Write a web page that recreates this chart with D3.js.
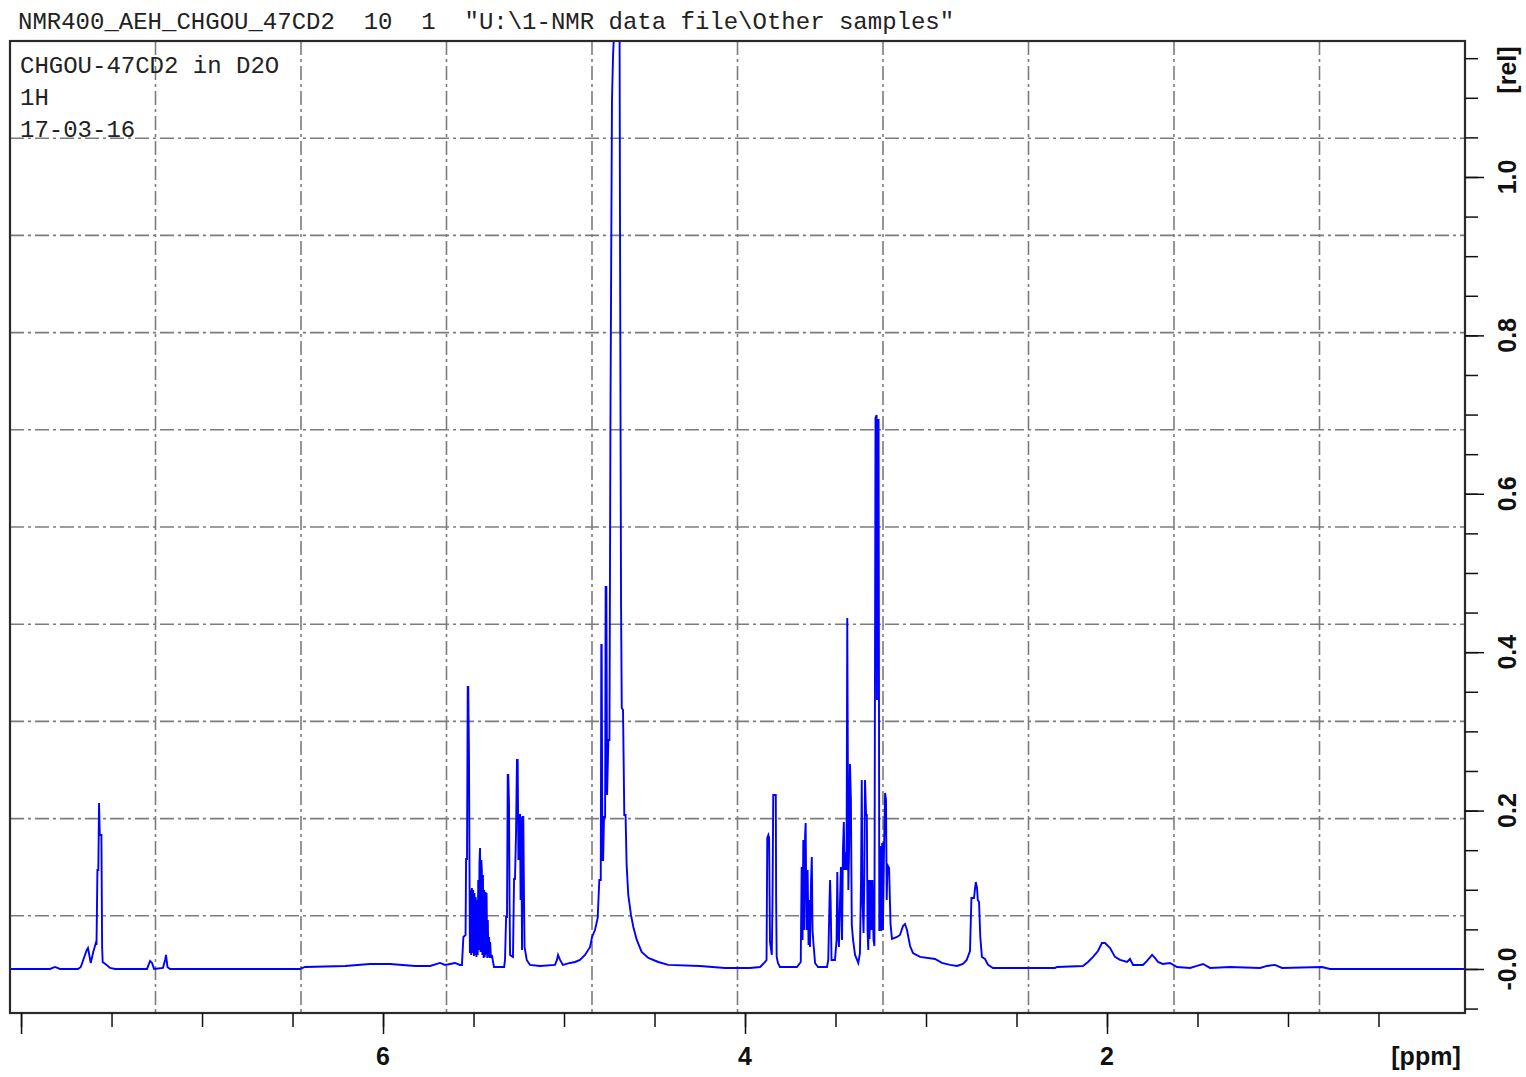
<!DOCTYPE html>
<html lang="en">

<head>
    <meta charset="utf-8">
    <title>NMR400_AEH_CHGOU_47CD2</title>
    <style media="screen" type="text/css">
        body { margin: 0; background: #fff; }
        .mono { font-family: "Liberation Mono", "Courier New", monospace; font-size: 24px; fill: #222; white-space: pre; }
        .lab { font-family: "Liberation Sans", Arial, sans-serif; font-weight: bold; font-size: 25px; fill: #111; }
        .tick line { stroke: #111; stroke-width: 1.5; }
        .grid line { stroke: #7c7c7c; stroke-width: 1.6; stroke-dasharray: 14, 4, 3, 4; }
    </style>
</head>

<body>
    <svg id="nmr"></svg>
    <script src="https://cdn.jsdelivr.net/npm/d3@7"></script>
    <script>
        var title = 'NMR400_AEH_CHGOU_47CD2  10  1  "U:\\1-NMR data file\\Other samples"';
        var infoLines = ["CHGOU-47CD2 in D2O", "1H", "17-03-16"];

        // axis ranges (ppm runs right to left)
        var ppmRange = [8.061, 0.022];
        var relRange = [-0.0556, 1.1717];

        var ppmMinor = [8.0, 7.5, 7.0, 6.5, 6.0, 5.5, 5.0, 4.5, 4.0, 3.5, 3.0, 2.5, 2.0, 1.5, 1.0, 0.5];
        var ppmMajor = [8, 6, 4, 2];
        var ppmLabels = [6, 4, 2];

        var relMinor = [-0.05, 0, 0.05, 0.1, 0.15, 0.2, 0.25, 0.3, 0.35, 0.4, 0.45, 0.5, 0.55, 0.6,
            0.65, 0.7, 0.75, 0.8, 0.85, 0.9, 0.95, 1.0, 1.05, 1.1, 1.15];
        var relMajor = [0, 0.2, 0.4, 0.6, 0.8, 1.0];
        var relLabels = ["-0.0", "0.2", "0.4", "0.6", "0.8", "1.0"];

        // spectrum trace: [ppm, rel]
        var spectrum = [
            [8.061, 0], [7.840, 0], [7.812, .0025], [7.785, 0], [7.685, 0], [7.670, .0025], [7.637, .0240],
            [7.630, .0265], [7.615, .0076], [7.601, .0215], [7.587, .0328], [7.583, .0303], [7.578, .1250],
            [7.573, .1250], [7.569, .2096], [7.565, .1692], [7.556, .1692], [7.552, .0278], [7.549, .0088],
            [7.527, .0051], [7.508, .0013], [7.481, 0],
            [7.304, 0], [7.287, .0101], [7.276, .0076], [7.265, 0], [7.216, .0013], [7.204, .0114],
            [7.199, .0177], [7.191, .0025], [7.177, 0],
            [6.459, 0], [6.431, .0025], [6.210, .0038], [6.072, .0063], [5.961, .0063], [5.823, .0038],
            [5.740, .0038], [5.685, .0076], [5.657, .0051], [5.602, .0076], [5.575, .0051],
            [5.564, .0051], [5.556, .0404], [5.544, .0429], [5.541, .1389], [5.536, .1389], [5.532, .3561],
            [5.529, .3561], [5.525, .2664],
            [5.520, .0202], [5.517, .0997], [5.513, .0177], [5.509, .1023], [5.506, .0202], [5.502, .0997],
            [5.498, .0164], [5.495, .0960], [5.491, .0177], [5.488, .0909], [5.484, .0152], [5.481, .0871],
            [5.477, .0177], [5.474, .1124], [5.471, .0240], [5.467, .1351], [5.464, .1528], [5.461, .0215],
            [5.457, .1376], [5.454, .1250], [5.451, .0177], [5.448, .1187], [5.444, .0139], [5.441, .0997],
            [5.438, .0152], [5.434, .0972], [5.431, .0177], [5.428, .0960], [5.424, .0139], [5.421, .0619],
            [5.418, .0152], [5.414, .0404], [5.411, .0139], [5.408, .0341], [5.404, .0139], [5.399, .0177],
            [5.391, .0076], [5.387, .0025],
            [5.331, .0025], [5.326, .0114], [5.320, .0657], [5.315, .0657], [5.311, .2449], [5.308, .2449],
            [5.304, .2096], [5.301, .0871], [5.298, .0177], [5.282, .0152], [5.276, .1149], [5.271, .1124],
            [5.265, .1730], [5.260, .2639], [5.256, .2639], [5.252, .1376], [5.249, .1944], [5.243, .1944],
            [5.240, .0871], [5.236, .1919], [5.232, .0240], [5.229, .1919], [5.225, .1919], [5.221, .0871],
            [5.218, .0278], [5.206, .0114], [5.188, .0051], [5.133, .0038], [5.050, .0051], [5.039, .0114],
            [5.033, .0177], [5.022, .0114], [5.006, .0051],
            [4.967, .0076], [4.939, .0088], [4.912, .0114], [4.884, .0177], [4.856, .0278], [4.845, .0404],
            [4.829, .0492], [4.814, .0644], [4.805, .1124], [4.797, .1124], [4.794, .4091], [4.792, .4091],
            [4.788, .1376], [4.784, .1376], [4.779, .1919], [4.773, .1919], [4.770, .4823], [4.766, .4823],
            [4.762, .2197], [4.755, .2891], [4.749, .2891], [4.743, .7184], [4.735, 1.0972], [4.729, 1.1540],
            [4.724, 1.1793], [4.710, 1.45], [4.693, 1.1793], [4.691, .9710], [4.685, .4659], [4.681, .3295],
            [4.674, .3270], [4.667, .1944], [4.660, .1944], [4.654, .1313], [4.645, .0934], [4.630, .0682],
            [4.617, .0530], [4.598, .0366], [4.571, .0215], [4.534, .0139], [4.479, .0088], [4.424, .0051],
            [4.249, .0038], [4.111, .0013], [3.972, .0013], [3.917, .0025], [3.889, .0088], [3.881, .0114],
            [3.877, .1654], [3.871, .1692], [3.867, .1654], [3.862, .0341], [3.852, .0177], [3.848, .0871],
            [3.844, .2197], [3.830, .2197], [3.828, .0871], [3.825, .0152], [3.818, .0076], [3.807, .0025],
            [3.713, .0025], [3.692, .0088], [3.687, .1288], [3.682, .0366], [3.678, .1629], [3.674, .0492],
            [3.668, .1692], [3.665, .1843], [3.660, .0492], [3.654, .1250], [3.649, .0303], [3.645, .0871],
            [3.641, .0278], [3.635, .1124], [3.631, .1414], [3.627, .0492], [3.622, .0328], [3.613, .0076],
            [3.597, .0025],
            [3.547, .0025], [3.540, .0114], [3.533, .0871], [3.530, .1124], [3.527, .0871], [3.522, .0114],
            [3.503, .0114], [3.494, .0366], [3.490, .1225], [3.486, .0492], [3.481, .0278], [3.475, .0871],
            [3.470, .1288], [3.464, .0366], [3.459, .1503], [3.454, .1856], [3.450, .1250], [3.444, .1477],
            [3.439, .1250], [3.435, .4432], [3.429, .0997], [3.425, .1503], [3.420, .2588], [3.415, .2134],
            [3.410, .0556], [3.403, .0366], [3.392, .0177], [3.374, .0076], [3.365, .0202], [3.359, .1124],
            [3.355, .2386], [3.351, .0871], [3.345, .0455], [3.341, .1124], [3.337, .2386], [3.331, .1944],
            [3.327, .1944], [3.323, .0492], [3.319, .0240], [3.315, .1124], [3.312, .0379], [3.307, .1124],
            [3.301, .0492], [3.296, .1124], [3.290, .0366], [3.285, .0290], [3.279, .6957], [3.273, .6995],
            [3.271, .3396], [3.268, .6932], [3.262, .6932], [3.258, .0480], [3.252, .1553], [3.247, .0480],
            [3.242, .1591], [3.238, .0492], [3.232, .1503], [3.226, .2222], [3.221, .2134], [3.217, .0871],
            [3.213, .1313], [3.204, .1275], [3.196, .0568], [3.188, .0379], [3.160, .0404], [3.144, .0429],
            [3.127, .0543], [3.116, .0568], [3.105, .0492], [3.088, .0290], [3.072, .0202], [3.033, .0152],
            [2.950, .0126], [2.912, .0076], [2.867, .0051], [2.829, .0038], [2.796, .0063], [2.775, .0114],
            [2.757, .0227], [2.749, .0896], [2.735, .0896], [2.725, .1098], [2.718, .1023], [2.714, .0871],
            [2.707, .0846], [2.700, .0404], [2.691, .0152], [2.674, .0126], [2.657, .0051], [2.630, .0013],
            [2.287, .0013], [2.276, .0025], [2.133, .0038], [2.105, .0088], [2.077, .0152], [2.050, .0227],
            [2.028, .0328], [2.011, .0328], [1.983, .0265], [1.956, .0152], [1.928, .0114], [1.889, .0088],
            [1.873, .0126], [1.856, .0051], [1.801, .0051], [1.779, .0101], [1.751, .0177], [1.735, .0139],
            [1.718, .0088], [1.691, .0063], [1.652, .0076], [1.613, .0025], [1.541, .0013], [1.503, .0038],
            [1.469, .0063], [1.431, .0013], [1.320, .0025], [1.154, .0013], [1.116, .0038], [1.072, .0051],
            [1.033, .0013], [0.812, .0025], [0.768, 0], [0.022, 0]
        ];

        var W = 1526, H = 1077;
        var plotL = 10, plotR = 1465, plotT = 41, plotB = 1013;

        var svg = d3.select("#nmr")
            .attr("width", W)
            .attr("height", H);

        svg.append("rect").attr("width", W).attr("height", H).attr("fill", "#fff");

        var x = d3.scaleLinear().domain(ppmRange).range([plotL, plotR]);
        var y = d3.scaleLinear().domain(relRange).range([plotB, plotT]);

        // grid: ten equal divisions of the frame each way
        var grid = svg.append("g").attr("class", "grid");
        var gx = d3.scaleLinear().domain([0, 10]).range([plotL, plotR]);
        var gy = d3.scaleLinear().domain([0, 10]).range([plotT, plotB]);
        grid.selectAll("line.v")
            .data(d3.range(1, 10))
            .enter()
            .append("line")
            .attr("class", "v")
            .attr("x1", function(d) { return gx(d); })
            .attr("x2", function(d) { return gx(d); })
            .attr("y1", plotT)
            .attr("y2", plotB);
        grid.selectAll("line.h")
            .data(d3.range(1, 10))
            .enter()
            .append("line")
            .attr("class", "h")
            .attr("y1", function(d) { return gy(d); })
            .attr("y2", function(d) { return gy(d); })
            .attr("x1", plotL)
            .attr("x2", plotR);

        // spectrum
        svg.append("clipPath").attr("id", "plotclip")
            .append("rect")
            .attr("x", plotL).attr("y", plotT)
            .attr("width", plotR - plotL).attr("height", plotB - plotT);

        var line = d3.line()
            .x(function(d) { return x(d[0]); })
            .y(function(d) { return y(d[1]); });

        svg.append("path")
            .datum(spectrum)
            .attr("clip-path", "url(#plotclip)")
            .attr("fill", "none")
            .attr("stroke", "#0000ff")
            .attr("stroke-width", 1.9)
            .attr("stroke-linejoin", "miter")
            .attr("d", line);

        // frame
        svg.append("rect")
            .attr("x", plotL).attr("y", plotT)
            .attr("width", plotR - plotL).attr("height", plotB - plotT)
            .attr("fill", "none")
            .attr("stroke", "#2a2a2a")
            .attr("stroke-width", 2.2);

        // bottom axis ticks
        var xMinor = svg.append("g")
            .attr("transform", "translate(0," + plotB + ")")
            .call(d3.axisBottom(x).tickValues(ppmMinor).tickSize(14).tickFormat(""));
        var xMajor = svg.append("g")
            .attr("transform", "translate(0," + plotB + ")")
            .call(d3.axisBottom(x).tickValues(ppmMajor).tickSize(21).tickFormat(""));
        xMinor.select(".domain").remove();
        xMajor.select(".domain").remove();

        svg.selectAll("text.xlab")
            .data(ppmLabels)
            .enter()
            .append("text")
            .attr("class", "lab xlab")
            .attr("x", function(d) { return x(d); })
            .attr("y", 1065)
            .attr("text-anchor", "middle")
            .text(function(d) { return d; });

        svg.append("text")
            .attr("class", "lab")
            .attr("x", 1426)
            .attr("y", 1065)
            .attr("text-anchor", "middle")
            .text("[ppm]");

        // right axis ticks
        var yMinor = svg.append("g")
            .attr("transform", "translate(" + plotR + ",0)")
            .call(d3.axisRight(y).tickValues(relMinor).tickSize(13).tickFormat(""));
        var yMajor = svg.append("g")
            .attr("transform", "translate(" + plotR + ",0)")
            .call(d3.axisRight(y).tickValues(relMajor).tickSize(19).tickFormat(""));
        yMinor.select(".domain").remove();
        yMajor.select(".domain").remove();

        svg.selectAll("text.ylab")
            .data(relMajor)
            .enter()
            .append("text")
            .attr("class", "lab ylab")
            .attr("transform", function(d) {
                return "translate(1507," + y(d) + ") rotate(-90)";
            })
            .attr("text-anchor", "middle")
            .attr("dy", "0.35em")
            .text(function(d, i) { return relLabels[i]; });

        svg.append("text")
            .attr("class", "lab")
            .attr("transform", "translate(1507," + y(1.135) + ") rotate(-90)")
            .attr("text-anchor", "middle")
            .attr("dy", "0.35em")
            .text("[rel]");

        // header and sample info
        svg.append("text")
            .attr("class", "mono")
            .attr("x", 18)
            .attr("y", 29)
            .text(title);

        svg.selectAll("text.info")
            .data(infoLines)
            .enter()
            .append("text")
            .attr("class", "mono info")
            .attr("x", 20)
            .attr("y", function(d, i) { return 73 + i * 32; })
            .text(function(d) { return d; });
    </script>
</body>

</html>
